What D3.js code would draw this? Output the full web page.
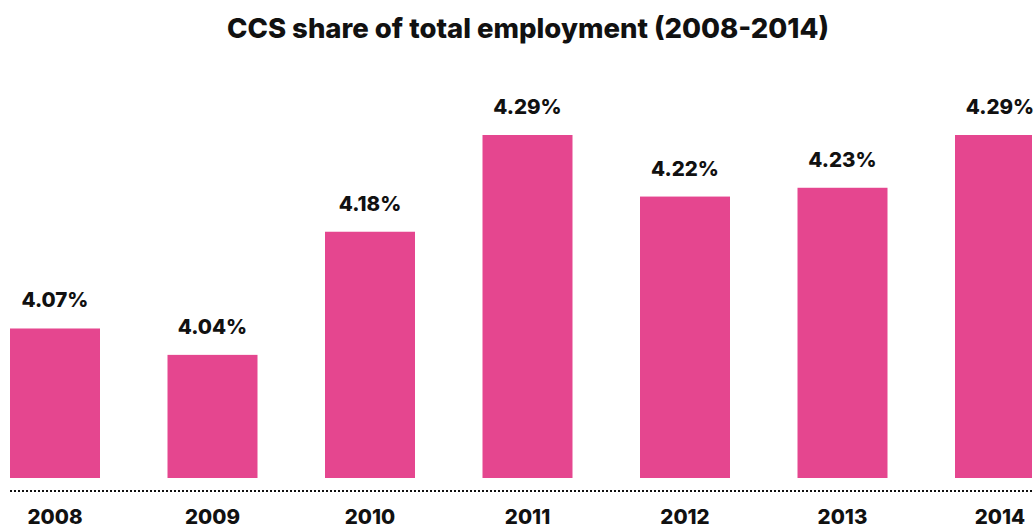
<!DOCTYPE html>
<html>
<head>
<meta charset="utf-8">
<script src="https://cdn.jsdelivr.net/npm/d3@7"></script>
<style>
  html, body { margin: 0; padding: 0; background: #fff; overflow: hidden; }
  svg { display: block; font-family: Inter, "DejaVu Sans", sans-serif; }
</style>
</head>
<body>
<svg id="chart" width="1036" height="529"></svg>
<script>
// CCS share of total employment, by year (percent)
const years = ["2008", "2009", "2010", "2011", "2012", "2013", "2014"];
const shares = [4.07, 4.04, 4.18, 4.29, 4.22, 4.23, 4.29];
const title = "CCS share of total employment (2008-2014)";

const svg = d3.select("#chart");
const H = 529;

// plotting area (the last column runs past the right edge and is clipped)
const plot = { left: 10, top: 135, bottom: 478, step: 157.5, gap: 67.5 };

const x = d3.scaleBand()
  .domain(years)
  .range([plot.left, plot.left + plot.step * years.length - plot.gap])
  .paddingInner(plot.gap / plot.step)
  .paddingOuter(0);

const y = d3.scaleLinear()
  .domain([3.9, 4.29])
  .range([plot.bottom, plot.top]);

svg.append("defs").append("clipPath").attr("id", "clip")
  .append("rect").attr("x", 0).attr("y", 0).attr("width", 1032).attr("height", H);

const g = svg.append("g").attr("clip-path", "url(#clip)");

g.selectAll("rect.bar")
  .data(years)
  .join("rect")
  .attr("class", "bar")
  .attr("x", d => x(d))
  .attr("width", x.bandwidth())
  .attr("y", (d, i) => y(shares[i]))
  .attr("height", (d, i) => y.range()[0] - y(shares[i]))
  .attr("fill", "#e5468f");

// value labels above each bar
svg.selectAll("text.value")
  .data(years)
  .join("text")
  .attr("class", "value")
  .attr("x", d => Math.min(x(d) + x.bandwidth() / 2, 1000))
  .attr("y", (d, i) => y(shares[i]) - 21)
  .attr("text-anchor", "middle")
  .attr("font-size", 20.5)
  .attr("font-weight", 800)
  .attr("fill", "#111")
  .text((d, i) => shares[i].toFixed(2) + "%");

// dotted baseline
svg.append("line")
  .attr("x1", 10).attr("x2", 1032)
  .attr("y1", 491).attr("y2", 491)
  .attr("stroke", "#111")
  .attr("stroke-width", 2)
  .attr("stroke-dasharray", "2 2");

// year axis
const axis = d3.axisBottom(x).tickSize(0).tickPadding(0);
const ax = svg.append("g").attr("transform", "translate(0,524)").call(axis);
ax.select(".domain").remove();
ax.selectAll("text")
  .attr("dy", "0")
  .attr("y", 0)
  .attr("font-size", 20.5)
  .attr("font-weight", 800)
  .attr("fill", "#111")
  .attr("font-family", "Inter, 'DejaVu Sans', sans-serif")
  .attr("x", d => Math.min(x(d) + x.bandwidth() / 2, 1003) - (x(d) + x.bandwidth() / 2));

// title
svg.append("text")
  .attr("x", 528)
  .attr("y", 38)
  .attr("text-anchor", "middle")
  .attr("font-size", 27.5)
  .attr("font-weight", 800)
  .attr("fill", "#111")
  .text(title);
</script>
</body>
</html>
